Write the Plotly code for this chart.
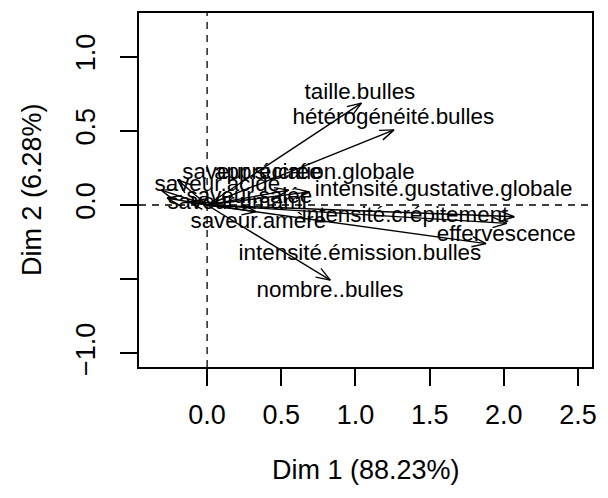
import numpy as np
import plotly.graph_objects as go

# ---- data (PCA variable coordinates) ----
variables = [
    "taille.bulles", "hétérogénéité.bulles", "nombre..bulles",
    "intensité.émission.bulles", "effervescence", "intensité.crépitement",
    "intensité.gustative.globale", "appréciation.globale",
    "saveur.sucrée", "saveur.acide", "saveur.salée", "saveur.umami",
    "saveur.amère",
]
dim1 = [1.04, 1.26, 0.83, 1.88, 2.02, 2.07, 0.69, 0.55, -0.20, -0.31, -0.27, -0.12, 0.33]
dim2 = [0.686, 0.506, -0.506, -0.26, -0.124, -0.079, 0.088, 0.10, 0.17, 0.10, 0.047, 0.02, -0.045]

# label anchor points (data units) as laid out in the reference
label_x = [1.03, 1.255, 0.828, 1.03, 2.016, 1.334, 1.594, 0.723, 0.302, 0.069, 0.285, 0.202, 0.345]
label_y = [0.752, 0.585, -0.585, -0.334, -0.202, -0.074, 0.101, 0.216, 0.216, 0.135, 0.054, 0.0135, -0.115]

x_tickvals = [0.0, 0.5, 1.0, 1.5, 2.0, 2.5]
x_ticktext = ["0.0", "0.5", "1.0", "1.5", "2.0", "2.5"]
y_tickvals = [-1.0, -0.5, 0.0, 0.5, 1.0]
y_ticktext = ["\u22121.0", "", "0.0", "0.5", "1.0"]

x_title = "Dim 1 (88.23%)"
y_title = "Dim 2 (6.28%)"

# ---- layout constants ----
W, H = 608, 498
ML, MR, MT, MB = 139, 16, 13, 131
x_range = [-0.459, 2.594]
y_range = [-1.091, 1.293]
FONT = "Liberation Sans, Arial, Helvetica, sans-serif"

px_per_x = (W - ML - MR) / (x_range[1] - x_range[0])
px_per_y = (H - MT - MB) / (y_range[1] - y_range[0])

head_px = 15.0
head_ang = np.deg2rad(20)

xs, ys = [], []
for x, y in zip(dim1, dim2):
    xs += [0, x, None]
    ys += [0, y, None]
    # arrow head computed in pixel space then mapped back to data units
    ang = np.arctan2(y * px_per_y, x * px_per_x)
    for s in (1, -1):
        a = ang + np.pi - s * head_ang
        hx = x + head_px * np.cos(a) / px_per_x
        hy = y + head_px * np.sin(a) / px_per_y
        xs += [x, hx, None]
        ys += [y, hy, None]

fig = go.Figure()
fig.add_trace(go.Scatter(x=xs, y=ys, mode="lines",
                         line=dict(color="black", width=1.4),
                         hoverinfo="skip", showlegend=False))
fig.add_trace(go.Scatter(x=label_x, y=label_y, mode="text", text=variables,
                         textposition="middle center",
                         textfont=dict(family=FONT, size=22.4, color="black"),
                         hoverinfo="skip", showlegend=False))

# dashed reference lines through the origin
fig.add_shape(type="line", xref="x", yref="paper", x0=0, x1=0, y0=0, y1=1,
              line=dict(color="black", width=1.3, dash="7px,6px"))
fig.add_shape(type="line", xref="paper", yref="y", x0=0, x1=1, y0=0, y1=0,
              line=dict(color="black", width=1.3, dash="7px,6px"))

axis_common = dict(showgrid=False, zeroline=False, showline=True, mirror=True,
                   linecolor="black", linewidth=1.6, ticks="outside", ticklen=17,
                   tickwidth=1.5, tickcolor="black",
                   tickfont=dict(family=FONT, size=27, color="black"))

fig.update_xaxes(range=x_range, tickmode="array", tickvals=x_tickvals,
                 ticktext=x_ticktext, ticklabelstandoff=6, **axis_common)
fig.update_yaxes(range=y_range, tickmode="array", tickvals=y_tickvals,
                 ticktext=y_ticktext, tickangle=-90, ticklabelstandoff=14,
                 **axis_common)

fig.add_annotation(text=x_title, xref="paper", yref="paper", x=0.5, y=0,
                   yanchor="middle", yshift=-103, showarrow=False,
                   font=dict(family=FONT, size=27, color="black"))
fig.add_annotation(text=y_title, xref="paper", yref="paper", x=0, y=0.5,
                   xanchor="center", xshift=-107, textangle=-90, showarrow=False,
                   font=dict(family=FONT, size=27, color="black"))

fig.update_layout(width=W, height=H, margin=dict(l=ML, r=MR, t=MT, b=MB),
                  plot_bgcolor="white", paper_bgcolor="white")

fig.write_html("out.html")
